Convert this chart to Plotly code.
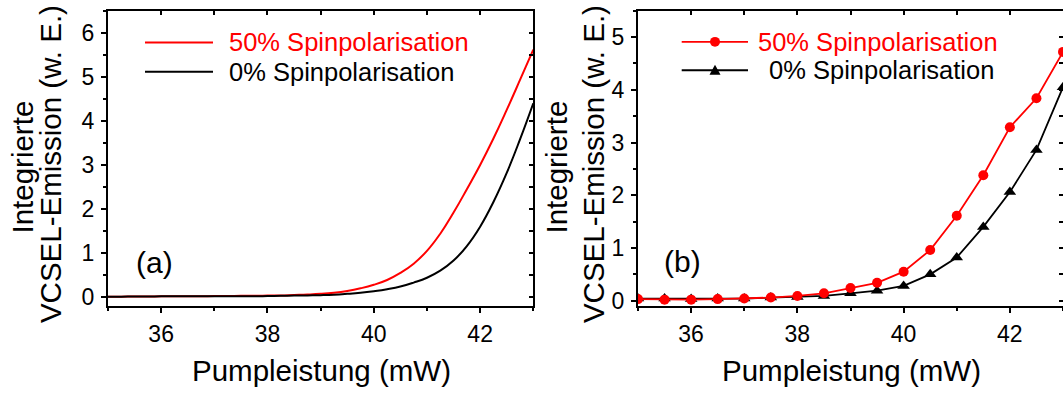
import plotly.graph_objects as go

W, H = 1063, 394
FONT = "Liberation Sans, Arial, sans-serif"
RED = "#ff0000"
BLACK = "#000000"

# ---- data -------------------------------------------------------------
# (a) smoothed emission curves, sampled every 0.25 mW
pump_a = [35.0, 35.25, 35.5, 35.75, 36.0, 36.25, 36.5, 36.75, 37.0, 37.25, 37.5, 37.75,
          38.0, 38.25, 38.5, 38.75, 39.0, 39.25, 39.5, 39.75, 40.0, 40.25, 40.5, 40.75,
          41.0, 41.25, 41.5, 41.75, 42.0, 42.25, 42.5, 42.75, 43.0]
emission_a_50 = [0.01, 0.01, 0.015, 0.015, 0.02, 0.02, 0.02, 0.02, 0.025, 0.025, 0.03, 0.03,
                 0.035, 0.04, 0.05, 0.06, 0.075, 0.10, 0.14, 0.20, 0.28, 0.39, 0.55, 0.76,
                 1.05, 1.44, 1.92, 2.45, 3.00, 3.60, 4.25, 4.93, 5.62]
emission_a_0 = [0.01, 0.01, 0.015, 0.015, 0.02, 0.02, 0.02, 0.02, 0.02, 0.02, 0.02, 0.02,
                0.025, 0.03, 0.035, 0.04, 0.045, 0.055, 0.075, 0.10, 0.135, 0.18, 0.24, 0.33,
                0.44, 0.60, 0.83, 1.16, 1.60, 2.16, 2.82, 3.58, 4.40]

# (b) measured points
pump_b = [35, 35.5, 36, 36.5, 37, 37.5, 38, 38.5, 39, 39.5, 40, 40.5, 41, 41.5, 42, 42.5, 43]
emission_b_50 = [0.03, 0.02, 0.02, 0.03, 0.04, 0.06, 0.09, 0.14, 0.24, 0.34, 0.55, 0.96, 1.61, 2.38, 3.29, 3.84, 4.72]
emission_b_0 = [0.04, 0.04, 0.03, 0.04, 0.04, 0.06, 0.07, 0.09, 0.14, 0.19, 0.28, 0.50, 0.82, 1.40, 2.06, 2.86, 4.05]

legend_labels = ["50% Spinpolarisation", "0% Spinpolarisation"]
x_title = "Pumpleistung (mW)"
y_title_lines = ["Integrierte", "VCSEL-Emission (w. E.)"]
panel_tags = ["(a)", "(b)"]

x_range = [35, 43]
y_range_a = [-0.2, 6.5]
y_range_b = [-0.1, 5.5]


def fx(px):
    return px / W


def fy(py):
    return 1 - py / H


fig = go.Figure()

# ---- traces -----------------------------------------------------------
smooth = dict(width=2, shape="spline", smoothing=1.3, simplify=False)
fig.add_trace(go.Scatter(x=pump_a, y=emission_a_50, mode="lines", line=dict(color=RED, **smooth),
                         xaxis="x", yaxis="y", showlegend=False, hoverinfo="skip"))
fig.add_trace(go.Scatter(x=pump_a, y=emission_a_0, mode="lines", line=dict(color=BLACK, **smooth),
                         xaxis="x", yaxis="y", showlegend=False, hoverinfo="skip"))
fig.add_trace(go.Scatter(x=pump_b, y=emission_b_0, mode="lines+markers", line=dict(color=BLACK, width=1.8),
                         marker=dict(symbol="triangle-up", size=11, color=BLACK),
                         xaxis="x2", yaxis="y2", showlegend=False, hoverinfo="skip"))
fig.add_trace(go.Scatter(x=pump_b, y=emission_b_50, mode="lines+markers", line=dict(color=RED, width=1.8),
                         marker=dict(symbol="circle", size=10, color=RED),
                         xaxis="x2", yaxis="y2", showlegend=False, hoverinfo="skip"))
# empty traces that carry the mirrored frame axes (top / right)
fig.add_trace(go.Scatter(x=[], y=[], xaxis="x3", yaxis="y3", showlegend=False, hoverinfo="skip"))
fig.add_trace(go.Scatter(x=[], y=[], xaxis="x4", yaxis="y4", showlegend=False, hoverinfo="skip"))

# ---- axes -------------------------------------------------------------
tickfont = dict(family=FONT, size=23, color=BLACK)


def axis(**kw):
    d = dict(showgrid=False, zeroline=False, showline=True, linecolor=BLACK, linewidth=2,
             ticks="outside", ticklen=5, tickwidth=1.5, tickcolor=BLACK, tickfont=tickfont)
    d.update(kw)
    return d


y_dom = [fy(312.3), fy(11)]
xa_dom = [fx(108), fx(533.3)]
xb_dom = [fx(638), 1.0]

xminor_out = dict(tick0=35, dtick=1, ticks="outside", ticklen=3, tickwidth=1.5, tickcolor=BLACK)
xminor_in = dict(tick0=35, dtick=1, ticks="inside", ticklen=4, tickwidth=1.5, tickcolor=BLACK)
yminor_out = dict(tick0=0, dtick=0.5, ticks="outside", ticklen=3, tickwidth=1.5, tickcolor=BLACK)
yminor_in = dict(tick0=0, dtick=0.5, ticks="inside", ticklen=4, tickwidth=1.5, tickcolor=BLACK)

fig.update_layout(
    xaxis=axis(domain=xa_dom, range=x_range, anchor="y", tick0=36, dtick=2, minor=xminor_out, ticklabelstandoff=1),
    yaxis=axis(domain=y_dom, range=y_range_a, anchor="x", tick0=0, dtick=1, minor=yminor_out, ticklabelstandoff=2),
    xaxis2=axis(domain=xb_dom, range=x_range, anchor="y2", tick0=36, dtick=2, minor=xminor_out, ticklabelstandoff=1),
    yaxis2=axis(domain=y_dom, range=y_range_b, anchor="x2", tick0=0, dtick=1, minor=yminor_out, ticklabelstandoff=2),
    xaxis3=axis(overlaying="x", side="top", anchor="y3", range=x_range, tick0=36, dtick=2, ticks="inside",
                ticklen=4, minor=xminor_in, showticklabels=False),
    yaxis3=axis(overlaying="y", side="right", anchor="x3", range=y_range_a, tick0=0, dtick=1, ticks="inside",
                ticklen=4, minor=yminor_in, showticklabels=False),
    xaxis4=axis(overlaying="x2", side="top", anchor="y4", range=x_range, tick0=36, dtick=2, ticks="inside",
                ticklen=4, minor=xminor_in, showticklabels=False),
    yaxis4=axis(overlaying="y2", side="right", anchor="x4", range=y_range_b, tick0=0, dtick=1, ticks="inside",
                ticklen=4, minor=yminor_in, showticklabels=False, showline=False),
)

# ---- text -------------------------------------------------------------
annotations = []
title_font = dict(family=FONT, size=29.5, color=BLACK)

# axis titles for both panels
for cx in (321.5, 851.5):
    annotations.append(dict(text=x_title, x=fx(cx), y=fy(378), xref="paper", yref="paper",
                            xanchor="center", yanchor="middle", showarrow=False, font=title_font))
for c1, c2 in ((23.0, 50.0), (557.0, 593.0)):
    annotations.append(dict(text=y_title_lines[0], x=fx(c1), y=fy(171), xref="paper", yref="paper",
                            xanchor="center", yanchor="middle", textangle=-90, showarrow=False, font=title_font))
    annotations.append(dict(text=y_title_lines[1], x=fx(c2), y=fy(167.5), xref="paper", yref="paper",
                            xanchor="center", yanchor="middle", textangle=-90, showarrow=False, font=title_font))

# panel tags
tag_font = dict(family=FONT, size=30, color=BLACK)
annotations.append(dict(text=panel_tags[0], x=fx(134), y=fy(268), xref="paper", yref="paper",
                        xanchor="left", yanchor="middle", showarrow=False, font=tag_font))
annotations.append(dict(text=panel_tags[1], x=fx(662), y=fy(267), xref="paper", yref="paper",
                        xanchor="left", yanchor="middle", showarrow=False, font=tag_font))

# hand-placed legends
leg_font = 25.5
shapes = []
# (a)
for (row_y, col, label) in ((43.3, RED, legend_labels[0]), (73.3, BLACK, legend_labels[1])):
    shapes.append(dict(type="line", xref="paper", yref="paper", x0=fx(145), x1=fx(213), y0=fy(row_y), y1=fy(row_y),
                       line=dict(color=col, width=2)))
    annotations.append(dict(text=label, x=fx(227), y=fy(row_y), xref="paper", yref="paper",
                            xanchor="left", yanchor="middle", showarrow=False,
                            font=dict(family=FONT, size=leg_font, color=col)))
# (b)
for (row_y, col, label, tx) in ((42.7, RED, legend_labels[0], 756), (71.7, BLACK, legend_labels[1], 767)):
    shapes.append(dict(type="line", xref="paper", yref="paper", x0=fx(681.7), x1=fx(748), y0=fy(row_y), y1=fy(row_y),
                       line=dict(color=col, width=1.8)))
    annotations.append(dict(text=label, x=fx(tx), y=fy(row_y), xref="paper", yref="paper",
                            xanchor="left", yanchor="middle", showarrow=False,
                            font=dict(family=FONT, size=leg_font, color=col)))
mx = 715
r = 5
shapes.append(dict(type="circle", xref="paper", yref="paper", x0=fx(mx - r), x1=fx(mx + r),
                   y0=fy(42.7 + r), y1=fy(42.7 - r), fillcolor=RED, line=dict(color=RED, width=0)))
ty = 71.7
tri = f"M {fx(mx - 5.5)},{fy(ty + 4.5)} L {fx(mx + 5.5)},{fy(ty + 4.5)} L {fx(mx)},{fy(ty - 5.5)} Z"
shapes.append(dict(type="path", xref="paper", yref="paper", path=tri, fillcolor=BLACK, line=dict(color=BLACK, width=0)))

fig.update_layout(
    width=W, height=H, margin=dict(l=0, r=0, t=0, b=0),
    paper_bgcolor="white", plot_bgcolor="white",
    annotations=annotations, shapes=shapes, showlegend=False,
    font=dict(family=FONT, color=BLACK),
)

fig.write_html("out.html")
